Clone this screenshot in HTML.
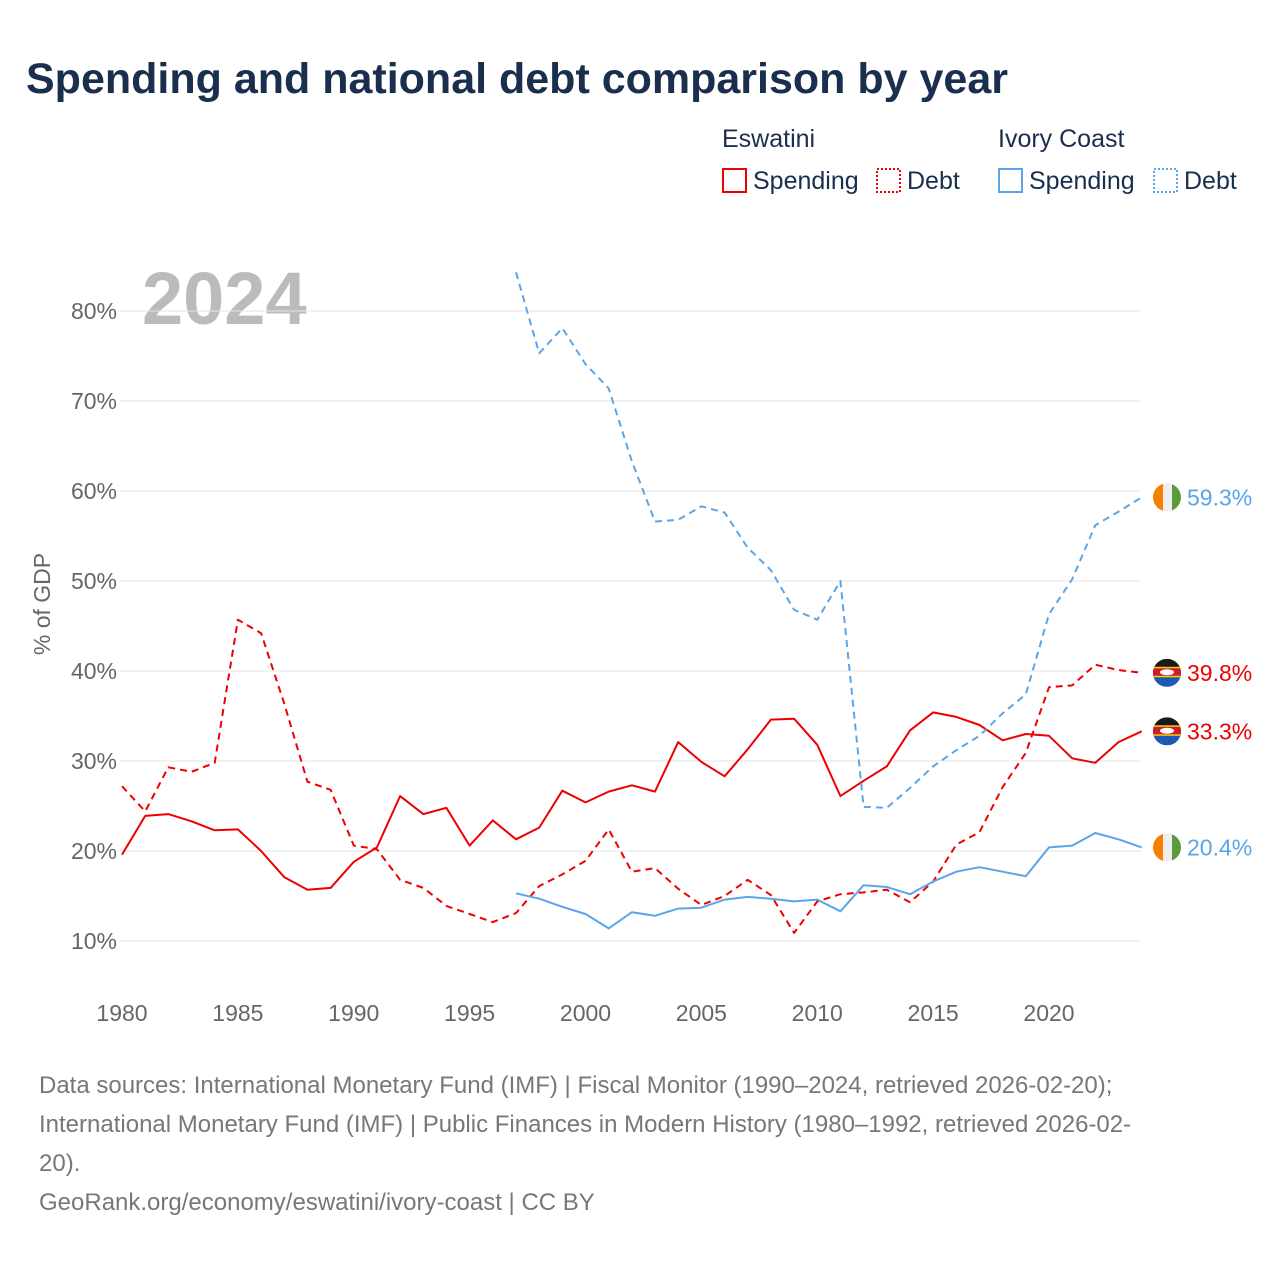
<!DOCTYPE html>
<html><head><meta charset="utf-8"><style>
body{margin:0;background:#fff;font-family:"Liberation Sans",sans-serif;}
svg{display:block}
</style></head><body>
<svg id="chart" width="1280" height="1280" viewBox="0 0 1280 1280" xmlns="http://www.w3.org/2000/svg">
<text x="26" y="93" font-size="43" font-weight="bold" fill="#1a2e4d">Spending and national debt comparison by year</text>
<g font-size="25" fill="#1a2e4d">
<text x="722" y="147">Eswatini</text>
<text x="998" y="147">Ivory Coast</text>
<rect x="723" y="169" width="23" height="23" fill="none" stroke="#e00" stroke-width="2"/>
<text x="753" y="189">Spending</text>
<rect x="877" y="169" width="23" height="23" fill="none" stroke="#e00" stroke-width="2" stroke-dasharray="2,2"/>
<text x="907" y="189">Debt</text>
<rect x="999" y="169" width="23" height="23" fill="none" stroke="#5aa5ea" stroke-width="2"/>
<text x="1029" y="189">Spending</text>
<rect x="1154" y="169" width="23" height="23" fill="none" stroke="#5aa5ea" stroke-width="2" stroke-dasharray="2,2"/>
<text x="1184" y="189">Debt</text>
</g>
<text x="142" y="324" font-size="74" font-weight="bold" fill="#bbb">2024</text>
<text transform="translate(50,604) rotate(-90)" text-anchor="middle" font-size="23" fill="#666">% of GDP</text>
<g id="grid"></g><g id="marks"></g><g id="ends"></g>
<g font-size="24" fill="#777">
<text x="39" y="1093">Data sources: International Monetary Fund (IMF) | Fiscal Monitor (1990–2024, retrieved 2026-02-20);</text>
<text x="39" y="1132">International Monetary Fund (IMF) | Public Finances in Modern History (1980–1992, retrieved 2026-02-</text>
<text x="39" y="1171">20).</text>
<text x="39" y="1210">GeoRank.org/economy/eswatini/ivory-coast | CC BY</text>
</g>
</svg>
<script>
const yTicks=[10,20,30,40,50,60,70,80];
const xTicks=[1980,1985,1990,1995,2000,2005,2010,2015,2020];
const eswSpending=[19.6,23.9,24.1,23.3,22.3,22.4,20.0,17.1,15.7,15.9,18.8,20.4,26.1,24.1,24.8,20.6,23.4,21.3,22.6,26.7,25.4,26.6,27.3,26.6,32.1,29.9,28.3,31.3,34.6,34.7,31.8,26.1,27.8,29.4,33.4,35.4,34.9,34.0,32.3,33.0,32.8,30.3,29.8,32.1,33.3];
const eswDebt=[27.2,24.4,29.3,28.8,29.8,45.7,44.2,36.4,27.7,26.8,20.6,20.2,16.8,15.9,13.9,13.0,12.1,13.1,16.1,17.4,18.9,22.4,17.7,18.1,15.8,14.0,15.0,16.8,15.1,10.9,14.4,15.2,15.4,15.7,14.3,16.6,20.7,22.1,27.1,30.9,38.2,38.4,40.7,40.1,39.8];
const civSpending=[15.3,14.7,13.8,13.0,11.4,13.2,12.8,13.6,13.7,14.6,14.9,14.7,14.4,14.6,13.3,16.2,16.0,15.2,16.6,17.7,18.2,17.7,17.2,20.4,20.6,22.0,21.3,20.4];
const civDebt=[84.3,75.3,78.1,74.1,71.4,63.3,56.6,56.8,58.3,57.6,53.7,51.2,46.8,45.7,50.0,24.9,24.8,27.0,29.4,31.2,32.8,35.3,37.4,46.3,50.2,56.2,57.7,59.3];
const NS='http://www.w3.org/2000/svg';
const X=yr=>122+(yr-1980)*23.175;
const Y=v=>941-(v-10)*9;
function mk(tag,attrs,parent){const e=document.createElementNS(NS,tag);for(const k in attrs)e.setAttribute(k,attrs[k]);parent.appendChild(e);return e;}
const grid=document.getElementById('grid'),marks=document.getElementById('marks'),ends=document.getElementById('ends');
yTicks.forEach(t=>{
 const l=mk('line',{x1:120,x2:1141,y1:Y(t),y2:Y(t),stroke:'#e6e6e6','stroke-width':1},grid);
 
 
 const tx=mk('text',{x:117,y:Y(t)+8,'text-anchor':'end','font-size':23,fill:'#666'},grid);
 tx.textContent=t+'%';
 
 
});
xTicks.forEach(t=>{
 const tx=mk('text',{x:X(t),y:1021,'text-anchor':'middle','font-size':23,fill:'#666'},grid);
 tx.textContent=t;
 
 
});
function series(vals,start,color,dash,name){
 const d=vals.map((v,i)=>(i?'L':'M')+X(start+i).toFixed(1)+' '+Y(v).toFixed(1)).join(' ');
 const p=mk('path',{d:d,fill:'none',stroke:color,'stroke-width':2,'stroke-linejoin':'round'},marks);
 if(dash)p.setAttribute('stroke-dasharray','7,5');
 
 
}
series(eswDebt,1980,'#e00',true,'eswatini-debt-line');
series(eswSpending,1980,'#e00',false,'eswatini-spending-line');
series(civDebt,1997,'#5aa5ea',true,'ivory-coast-debt-line');
series(civSpending,1997,'#5aa5ea',false,'ivory-coast-spending-line');
function flag(kind,v,color,name){
 const cy=Y(v),cx=1167,g=mk('g',{},ends);
 
 
 const id='c'+Math.round(cy);
 const cp=mk('clipPath',{id:id},g);mk('circle',{cx:cx,cy:cy,r:14},cp);
 const f=mk('g',{'clip-path':'url(#'+id+')'},g);
 if(kind==='civ'){
  mk('rect',{x:cx-14,y:cy-14,width:10,height:28,fill:'#f77f00'},f);
  mk('rect',{x:cx-4,y:cy-14,width:9,height:28,fill:'#eee'},f);
  mk('rect',{x:cx+5,y:cy-14,width:10,height:28,fill:'#5a9a3a'},f);
 }else{
  mk('rect',{x:cx-14,y:cy-14,width:28,height:28,fill:'#1a1a1a'},f);
  mk('rect',{x:cx-14,y:cy+4,width:28,height:10,fill:'#1c5bb5'},f);
  mk('rect',{x:cx-14,y:cy-5,width:28,height:9,fill:'#d21a2a'},f);
  mk('rect',{x:cx-14,y:cy-6,width:28,height:1.5,fill:'#f5d000'},f);
  mk('rect',{x:cx-14,y:cy+3,width:28,height:1.5,fill:'#f5d000'},f);
  mk('ellipse',{cx:cx,cy:cy-0.5,rx:7,ry:3,fill:'#fff'},f);
 }
 const t=mk('text',{x:1187,y:cy+8,'font-size':23,fill:color},g);
 t.textContent=v.toFixed(1)+'%';
}
flag('civ',civDebt[civDebt.length-1],'#5aa5ea','ivory-coast-debt-end-label');
flag('esw',eswDebt[eswDebt.length-1],'#e00','eswatini-debt-end-label');
flag('esw',eswSpending[eswSpending.length-1],'#e00','eswatini-spending-end-label');
flag('civ',civSpending[civSpending.length-1],'#5aa5ea','ivory-coast-spending-end-label');
</script>
</body></html>
